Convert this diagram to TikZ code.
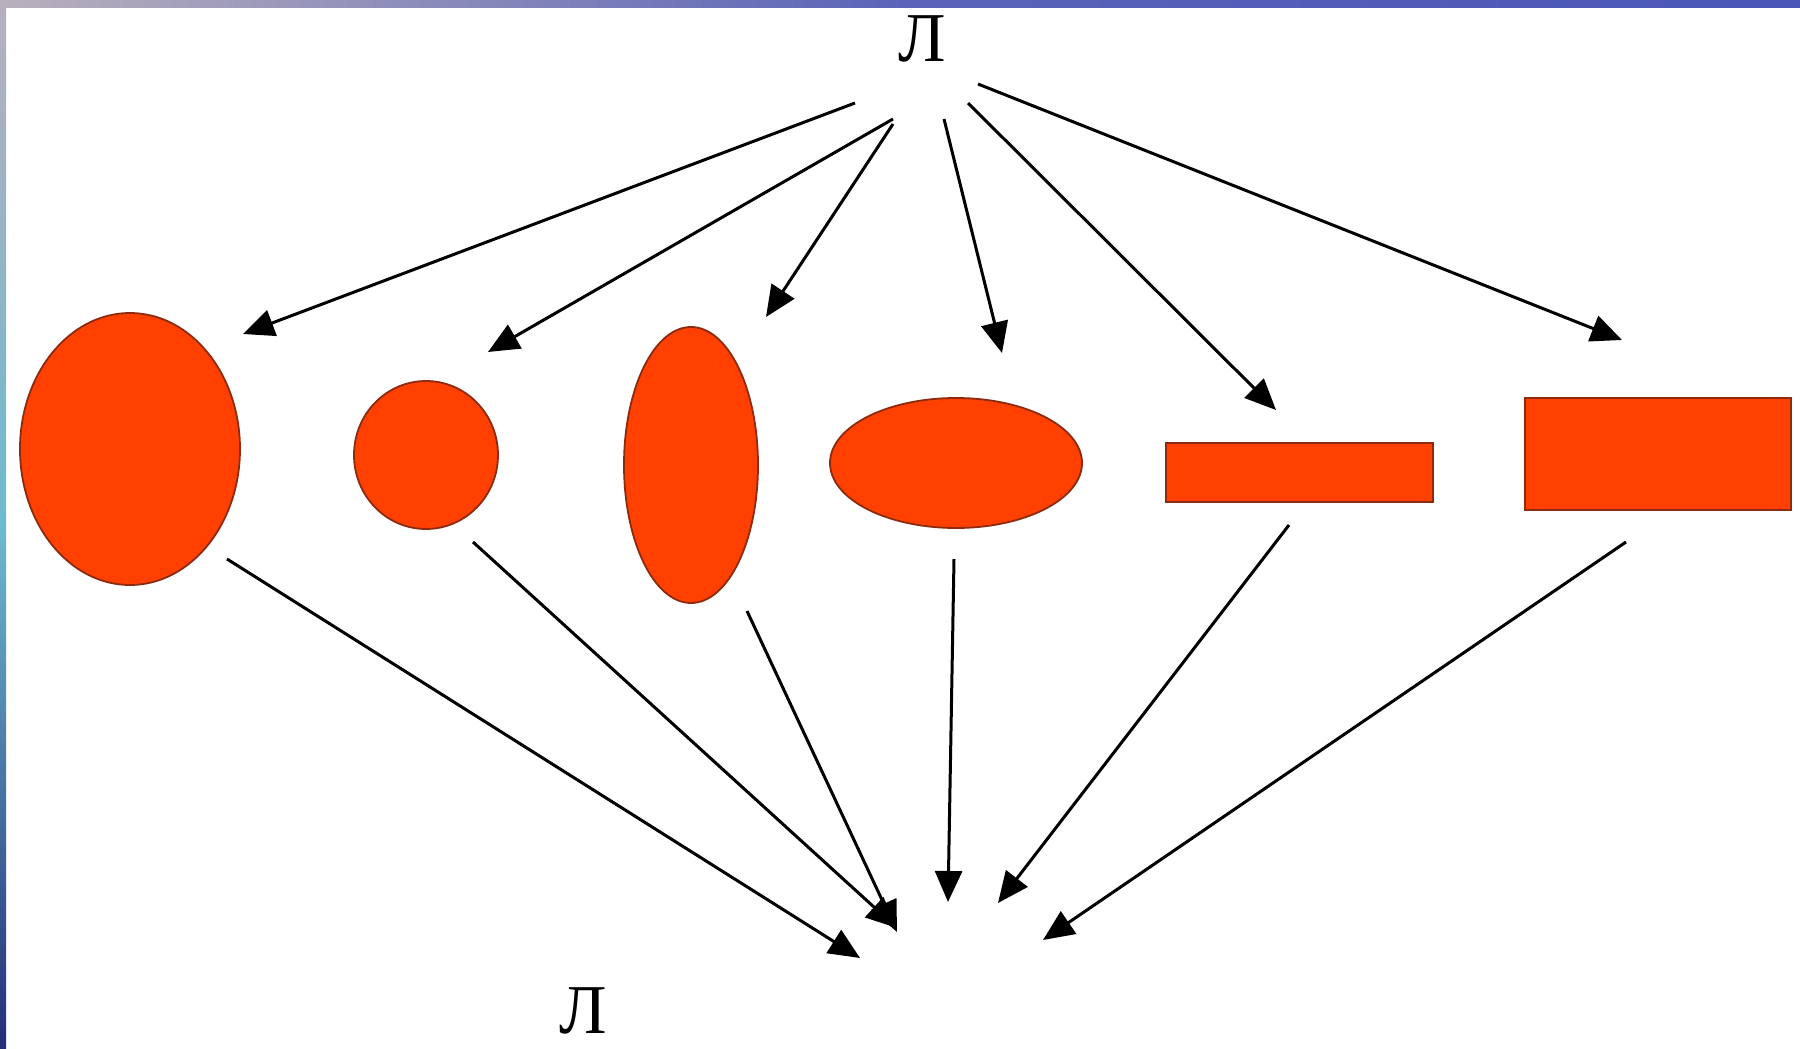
\documentclass[tikz,border=0pt]{standalone}
\usepackage{fontspec}
\setmainfont{Liberation Serif}
\usepackage{tikz}
\usetikzlibrary{
arrows.meta,
shapes.geometric
}
\definecolor{FormFill}{HTML}{FF4000}
\definecolor{FormEdge}{HTML}{8E2A0E}
\definecolor{FrameBlue}{HTML}{4A56B8}
\definecolor{FrameGray}{HTML}{B8B0BC}
\definecolor{FrameCyan}{HTML}{6CBAD0}
\definecolor{FrameNavy}{HTML}{232E78}
\tikzset{
formoval/.style={ellipse, draw=FormEdge, fill=FormFill, line width=1.8pt, inner sep=0pt},
formbar/.style={rectangle, draw=FormEdge, fill=FormFill, line width=1.8pt, inner sep=0pt},
letter/.style={inner sep=0pt, font=\fontsize{70}{70}\selectfont},
fanarrow/.style={-{Triangle[length=31pt,width=27pt]}, line width=3pt, draw=black}
}

\begin{document}
\begin{tikzpicture}[x=1pt, y=-1pt]
\useasboundingbox (0,0) rectangle (1800,1049);
% slide frame
\fill[white] (0,0) rectangle (1800,1049);
\shade[left color=FrameGray, right color=FrameBlue, middle color=FrameBlue!85!FrameGray] (0,0) rectangle (1800,8);
\shade[top color=FrameGray, bottom color=FrameNavy, middle color=FrameCyan] (0,0) rectangle (6,1049);

% letters
\node[letter] (top) at (922,39) {Л};
\node[letter] (bot) at (583,1011) {Л};

% forms
\node[formoval, minimum width=220pt, minimum height=272pt] (f1) at (130,449) {};
\node[formoval, minimum width=144pt, minimum height=148pt] (f2) at (426,455) {};
\node[formoval, minimum width=134pt, minimum height=276pt] (f3) at (691,465) {};
\node[formoval, minimum width=252pt, minimum height=130pt] (f4) at (956,463) {};
\node[formbar, minimum width=267pt, minimum height=59pt] (f5) at (1299.5,472.5) {};
\node[formbar, minimum width=266pt, minimum height=112pt] (f6) at (1658,454) {};

% arrow ends
\foreach \n/\p in {1/{855,103},2/{893,119},3/{893,124},4/{944,119},5/{968,103},6/{978,84}}
  \coordinate (ts\n) at (\p);
\foreach \n/\p in {1/{243,334},2/{488,352},3/{766,317},4/{1002,353},5/{1276,410},6/{1622,340}}
  \coordinate (tt\n) at (\p);
\foreach \n/\p in {1/{227,559},2/{473,542},3/{747,611},4/{954,559},5/{1289,525},6/{1626,542}}
  \coordinate (bs\n) at (\p);
\foreach \n/\p in {1/{860,958},2/{897,928},3/{897,932},4/{948,902},5/{998,903},6/{1043,940}}
  \coordinate (bt\n) at (\p);

\foreach \n in {1,...,6}{
  \draw[fanarrow] (ts\n) -- (tt\n);
  \draw[fanarrow] (bs\n) -- (bt\n);
}
\end{tikzpicture}
\end{document}
